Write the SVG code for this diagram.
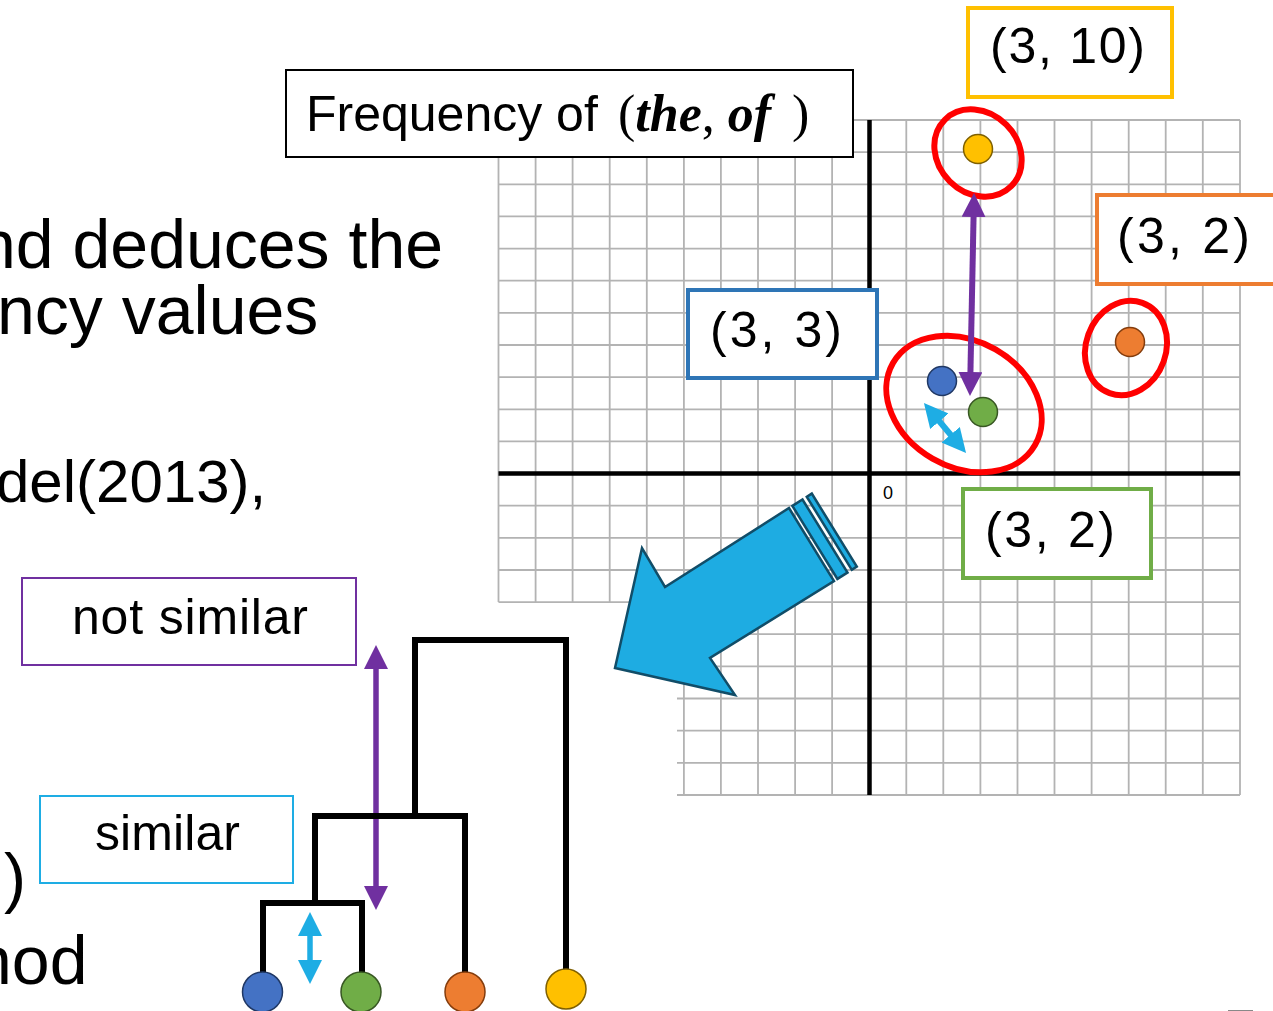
<svg xmlns="http://www.w3.org/2000/svg" width="1273" height="1011" viewBox="0 0 1273 1011">
<style>
.grid{stroke:#b3b3b3;stroke-width:1.8;fill:none}
.axis{stroke:#000;stroke-width:4.5;fill:none}
.lbl{font-family:"Liberation Sans",Arial,sans-serif;font-size:50px;fill:#000}
.big{font-family:"Liberation Sans",Arial,sans-serif;font-size:68px;fill:#000}
.box{fill:#fff;stroke-width:4}
.ring{fill:none;stroke:#ff0000;stroke-width:6}
.dend{stroke:#000;stroke-width:6;fill:none;stroke-linecap:square}
.ser{font-family:"Liberation Serif","Times New Roman",serif;font-size:52px}
</style>
<defs>
<marker id="hp" markerUnits="userSpaceOnUse" markerWidth="24" markerHeight="24" refX="2" refY="12" orient="auto-start-reverse" viewBox="0 0 24 24"><path d="M0,0 L24,12 L0,24 z" fill="#7030a0"/></marker>
<marker id="hc" markerUnits="userSpaceOnUse" markerWidth="24" markerHeight="24" refX="2" refY="12" orient="auto-start-reverse" viewBox="0 0 24 24"><path d="M0,0 L24,12 L0,24 z" fill="#1eade4"/></marker>
</defs>
<rect width="1273" height="1011" fill="#fff"/>

<g id="grid">
<path class="grid" d="M498.5,120V602 M535.6,120V602 M572.6,120V602 M609.7,120V602 M646.8,120V602
M683.9,120V795 M720.9,120V795 M758,120V795 M795.1,120V795 M832.1,120V795 M906.3,120V795 M943.3,120V795 M980.4,120V795 M1017.5,120V795 M1054.5,120V795 M1091.6,120V795 M1128.7,120V795 M1165.7,120V795 M1202.8,120V795 M1240,120V795
M498.5,120H1240 M498.5,152.1H1240 M498.5,184.3H1240 M498.5,216.4H1240 M498.5,248.6H1240 M498.5,280.7H1240 M498.5,312.8H1240 M498.5,345H1240 M498.5,377.1H1240 M498.5,409.3H1240 M498.5,441.4H1240 M498.5,505.7H1240 M498.5,537.8H1240 M498.5,570H1240 M498.5,602.1H1240
M677,634.2H1240 M677,666.4H1240 M677,698.5H1240 M677,730.7H1240 M677,762.8H1240 M677,795H1240"/>
<path class="axis" d="M869.5,120V795 M498.5,473.5H1240"/>
<text x="883" y="499" font-family="Liberation Sans,Arial,sans-serif" font-size="18">0</text>
</g>

<g id="label-axis">
<rect x="286" y="70" width="567" height="87" fill="#fff" stroke="#000" stroke-width="2"/>
<text y="131" font-family="Liberation Sans,Arial,sans-serif" font-size="50"><tspan x="306">Frequency of </tspan><tspan class="ser" x="618">(</tspan><tspan class="ser" font-weight="bold" font-style="italic">the</tspan><tspan class="ser">, </tspan><tspan class="ser" font-weight="bold" font-style="italic">of</tspan><tspan class="ser" x="792">)</tspan></text>
</g>

<g id="label-yellow">
<rect class="box" x="968" y="8" width="204" height="89" stroke="#ffc000"/>
<text class="lbl" x="990" y="63" textLength="155">(3, 10)</text>
</g>
<g id="label-orange">
<rect class="box" x="1097" y="195" width="190" height="89" stroke="#ed7d31"/>
<text class="lbl" x="1117" y="253" textLength="133">(3, 2)</text>
</g>
<g id="label-blue">
<rect class="box" x="688" y="290" width="189" height="88" stroke="#2e75b6"/>
<text class="lbl" x="710" y="347" textLength="132">(3, 3)</text>
</g>
<g id="label-green">
<rect class="box" x="963" y="489" width="188" height="89" stroke="#70ad47"/>
<text class="lbl" x="985" y="547" textLength="130">(3, 2)</text>
</g>

<g id="rings">
<ellipse class="ring" cx="978" cy="153" rx="47" ry="40" transform="rotate(45 978 153)"/>
<ellipse class="ring" cx="1126" cy="348" rx="40" ry="48" transform="rotate(20 1126 348)"/>
<ellipse class="ring" cx="964" cy="404" rx="82" ry="63" transform="rotate(30 964 404)"/>
</g>

<g id="points">
<circle cx="978" cy="149" r="14.5" fill="#ffc000" stroke="#7f6000" stroke-width="1.5"/>
<circle cx="1130" cy="342" r="14.5" fill="#ed7d31" stroke="#843c0c" stroke-width="1.5"/>
<circle cx="942" cy="381" r="14.5" fill="#4472c4" stroke="#203864" stroke-width="1.5"/>
<circle cx="983" cy="412" r="14.5" fill="#70ad47" stroke="#385723" stroke-width="1.5"/>
</g>

<g id="connectors">
<line x1="973.6" y1="215" x2="970.4" y2="374" stroke="#7030a0" stroke-width="6" marker-start="url(#hp)" marker-end="url(#hp)"/>
<line x1="938.1" y1="419.8" x2="951.9" y2="436.2" stroke="#1eade4" stroke-width="6" marker-start="url(#hc)" marker-end="url(#hc)"/>
<line x1="376" y1="667" x2="376" y2="888" stroke="#7030a0" stroke-width="5.5" marker-start="url(#hp)" marker-end="url(#hp)"/>
<line x1="310" y1="934" x2="310" y2="962" stroke="#1eade4" stroke-width="5.5" marker-start="url(#hc)" marker-end="url(#hc)"/>
</g>

<g id="big-arrow" fill="#1eace2" stroke="#114d68" stroke-width="2.5" stroke-linejoin="miter">
<polygon points="615,668 642,548 665,587 789,508 834,581 710,658 735,695"/>
<polygon points="792.4,505.9 802.5,499.5 847.5,572.5 837.4,578.9"/>
<polygon points="806.8,496.8 811.8,493.6 856.8,566.6 851.8,569.8"/>
</g>

<g id="dendrogram">
<path class="dend" d="M263,971V903H362V971 M315,903V816H465V971 M415,816V640H566V969"/>
<circle cx="262.5" cy="992" r="20" fill="#4472c4" stroke="#203864" stroke-width="1.5"/>
<circle cx="361" cy="992" r="20" fill="#70ad47" stroke="#385723" stroke-width="1.5"/>
<circle cx="465" cy="992" r="20" fill="#ed7d31" stroke="#843c0c" stroke-width="1.5"/>
<circle cx="566" cy="989" r="20" fill="#ffc000" stroke="#7f6000" stroke-width="1.5"/>
</g>

<g id="label-not-similar">
<rect x="22" y="578" width="334" height="87" fill="#fff" stroke="#7030a0" stroke-width="2"/>
<text class="lbl" x="72" y="634" textLength="236">not similar</text>
</g>
<g id="label-similar">
<rect x="40" y="796" width="253" height="87" fill="#fff" stroke="#1eade4" stroke-width="2"/>
<text class="lbl" x="95" y="850" textLength="145">similar</text>
</g>

<g id="body-text">
<text class="big" x="-22" y="268">nd deduces the</text>
<text class="big" x="-3" y="334">ncy values</text>
<text class="big" x="-4" y="502" style="font-size:60px">del(2013),</text>
<text class="big" x="4" y="900" style="font-size:66px">)</text>
<text class="big" x="-26" y="984">nod</text>
</g>
<line x1="1228" y1="1010.5" x2="1253" y2="1010.5" stroke="#888" stroke-width="1"/>
</svg>
